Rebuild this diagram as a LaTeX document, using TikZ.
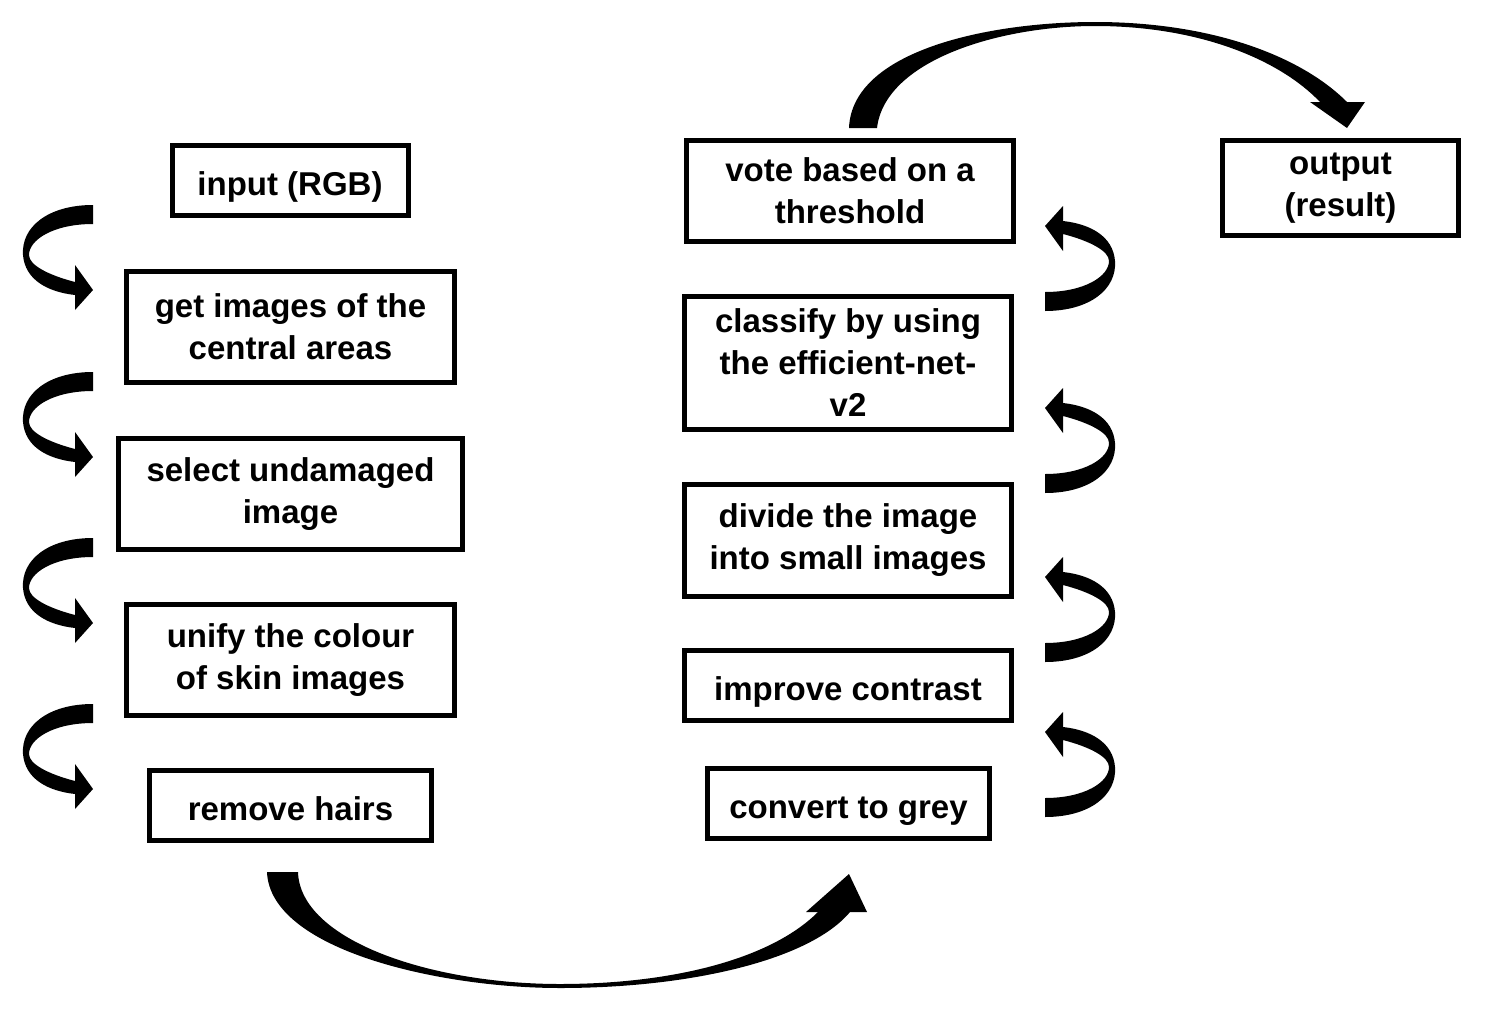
\documentclass[tikz,border=0pt]{standalone}
\usepackage{fontspec}
\setmainfont{Liberation Sans}
\usetikzlibrary{calc}

\tikzset{
  stepbox/.style={draw, line width=5pt, align=center, inner sep=0pt,
    font=\fontsize{33}{42}\selectfont\bfseries},
  oneline/.style={text height=29pt, text depth=0pt},
  % thick curved arrow, tail at the origin, head below it
  pics/bendarrow/.style={code={
    \fill (0,0) .. controls (-45,0) and (-72,22) .. (-70,50)
      .. controls (-68,75) and (-45,87) .. (-18,90)
      -- (-18,105) -- (0,85) -- (-18,60) -- (-18,77)
      .. controls (-45,70) and (-64,60) .. (-64,50)
      .. controls (-64,35) and (-40,19) .. (0,19) -- cycle;
  }}
}

\begin{document}
\begin{tikzpicture}[x=1pt,y=-1pt]
    \useasboundingbox (0,0) rectangle (1486,1012);

    % left column
    \node[stepbox, oneline, minimum width=236, minimum height=70] (in) at (290,180.5) {input (RGB)};
    \node[stepbox, minimum width=328, minimum height=111] (get) at (290.5,327) {get images of the\\central areas};
    \node[stepbox, minimum width=344, minimum height=111] (sel) at (290.5,494) {select undamaged\\image};
    \node[stepbox, minimum width=328, minimum height=111] (uni) at (290.5,660) {unify the colour\\of skin images};
    \node[stepbox, oneline, minimum width=282, minimum height=70] (rem) at (290.5,805.5) {remove hairs};

    % right column
    \node[stepbox, oneline, minimum width=282, minimum height=70] (grey) at (848.5,803.5) {convert to grey};
    \node[stepbox, oneline, minimum width=327, minimum height=70] (imp) at (848,685.5) {improve contrast};
    \node[stepbox, minimum width=327, minimum height=112] (div) at (848,540.5) {divide the image\\into small images};
    \node[stepbox, minimum width=327, minimum height=133] (cls) at (848,363) {classify by using\\the efficient-net-\\v2};
    \node[stepbox, minimum width=327, minimum height=101] (vote) at (850,191) {vote based on a\\threshold};
    \node[stepbox, minimum width=236, minimum height=95] (out) at (1340.5,188) {output\\(result)};

    % small curved arrows
    \coordinate (lx) at (93,0);
    \coordinate (rx) at (1045,0);
    \foreach \b in {get,sel,uni,rem}
        \pic at ($(lx |- \b.north)+(0,-64)$) {bendarrow};
    \foreach \b/\d in {cls/17,div/11,imp/14,grey/51}
        \pic[rotate=180] at ($(rx |- \b.north)+(0,\d)$) {bendarrow};

    % big arrow: left column to right column
    \fill (267,872) .. controls (270,950) and (440,988) .. (560,988)
        .. controls (690,988) and (810,960) .. (850,912)
        -- (867,912) -- (849,874) -- (806,912) -- (818,912)
        .. controls (770,960) and (670,984) .. (560,984)
        .. controls (430,984) and (300,940) .. (298,872) -- cycle;

    % big arrow: vote to output
    \fill (849,128) .. controls (852,50) and (990,22) .. (1095,22)
        .. controls (1210,22) and (1300,55) .. (1347,102)
        -- (1365,102) -- (1347,128) -- (1310,102) -- (1320,102)
        .. controls (1280,60) and (1200,26) .. (1095,26)
        .. controls (1000,26) and (885,60) .. (877,128) -- cycle;
\end{tikzpicture}
\end{document}
